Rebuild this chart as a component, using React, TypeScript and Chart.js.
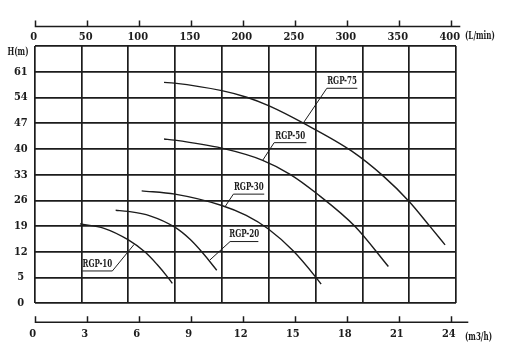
import { useEffect, useRef } from "react";
import { Chart, registerables } from "chart.js";

Chart.register(...registerables);

// ---- axis ticks ----
const m3hTicks = [0, 3, 6, 9, 12, 15, 18, 21, 24];
const lminTicks = [0, 50, 100, 150, 200, 250, 300, 350, 400];
const headTickValues = [-2, 5, 12, 19, 26, 33, 40, 47, 54, 61, 68];
const headTickLabels = ["0", "5", "12", "19", "26", "33", "40", "47", "54", "61", ""];
const gridColumns = [0, 1, 2, 3, 4, 5, 6, 7, 8, 9];
const m3hAxisMax = 24.3;
const lminAxisMax = 405;

// ---- pump curves: flow (m3/h) and head H (m) ----
const rgp10Flow = [2.61, 4.0, 5.38, 6.4, 7.05, 7.69, 7.94];
const rgp10Head = [19.6, 18.4, 15.3, 11.8, 8.6, 5.0, 3.4];
const rgp20Flow = [4.67, 5.38, 6.65, 8.08, 8.96, 9.67, 10.5];
const rgp20Head = [23.3, 23.0, 21.8, 18.7, 15.4, 11.8, 7.0];
const rgp30Flow = [6.17, 8.09, 10.79, 12.2, 13.48, 14.92, 16.23, 16.52];
const rgp30Head = [28.6, 27.7, 24.6, 21.9, 18.2, 12.2, 5.0, 3.2];
const rgp50Flow = [7.46, 8.05, 10.79, 13.15, 14.73, 16.23, 18.48, 20.4];
const rgp50Head = [42.7, 42.4, 40.2, 36.9, 33.1, 28.0, 18.9, 8.0];
const rgp75Flow = [7.46, 8.05, 10.79, 12.23, 13.52, 15.5, 18.29, 20.11, 21.61, 22.81, 23.67];
const rgp75Head = [58.1, 57.9, 55.85, 54.05, 51.7, 47.0, 39.4, 32.6, 25.65, 18.85, 13.9];

// ---- curve labels with leader lines: [point on curve, elbow, underline end] ----
const curveNames = ["RGP-10", "RGP-20", "RGP-30", "RGP-50", "RGP-75"];
const leaderFlow = [
  [5.73, 4.48, 2.75],
  [10.11, 11.27, 12.9],
  [10.98, 11.46, 13.24],
  [13.15, 13.81, 15.67],
  [15.5, 16.85, 18.61],
];
const leaderHead = [
  [14.0, 6.8, 6.8],
  [9.8, 14.8, 14.8],
  [24.3, 27.7, 27.7],
  [36.9, 41.7, 41.7],
  [47.1, 56.5, 56.5],
];

const INK = "#1c1c1c";
const FONT_FAMILY = "'DejaVu Serif Condensed', 'Liberation Serif', serif";
const tickFont = { family: FONT_FAMILY, size: 11, weight: "bold" as const };

function pts(xs: number[], ys: number[]) {
  return xs.map((x, i) => ({ x, y: ys[i] }));
}

const decorPlugin = {
  id: "decor",
  afterDraw(chart: any) {
    const ctx = chart.ctx as CanvasRenderingContext2D;
    const xb = chart.scales.x;
    const xt = chart.scales.xt;
    const y = chart.scales.y;
    const area = chart.chartArea;
    ctx.save();
    ctx.strokeStyle = INK;
    ctx.fillStyle = INK;
    ctx.lineWidth = 1.5;

    // top axis (L/min)
    const topLineY = area.top - 19.5;
    ctx.beginPath();
    ctx.moveTo(xt.getPixelForValue(0), topLineY);
    ctx.lineTo(xt.getPixelForValue(lminTicks[lminTicks.length - 1]) + 9.5, topLineY);
    for (const v of lminTicks) {
      const px = Math.round(xt.getPixelForValue(v)) + 0.5;
      ctx.moveTo(px, topLineY);
      ctx.lineTo(px, topLineY - 6);
    }
    ctx.stroke();

    // bottom axis (m3/h)
    const botLineY = area.bottom + 19;
    ctx.beginPath();
    ctx.moveTo(xb.getPixelForValue(0), botLineY);
    ctx.lineTo(xb.getPixelForValue(m3hTicks[m3hTicks.length - 1]) + 17.5, botLineY);
    for (const v of m3hTicks) {
      const px = Math.round(xb.getPixelForValue(v)) + 0.5;
      ctx.moveTo(px, botLineY);
      ctx.lineTo(px, botLineY - 6);
    }
    ctx.stroke();

    const drawNarrow = (text: string, cx: number, cy: number, align: CanvasTextAlign, base: CanvasTextBaseline) => {
      ctx.save();
      ctx.translate(cx, cy);
      ctx.scale(0.72, 1);
      ctx.textAlign = align;
      ctx.textBaseline = base;
      ctx.fillText(text, 0, 0);
      ctx.restore();
    };

    ctx.font = `bold 11px ${FONT_FAMILY}`;
    drawNarrow("(L/min)", area.right + 9, area.top - 9.5, "left", "middle");
    drawNarrow("(m3/h)", area.right + 9, area.bottom + 34, "left", "middle");
    drawNarrow("H(m)", 18, area.top + 6, "center", "middle");

    // curve labels
    curveNames.forEach((name, i) => {
      const fx = leaderFlow[i];
      const hy = leaderHead[i];
      const mid = (fx[1] + fx[2]) / 2;
      const px = xb.getPixelForValue(mid);
      const py = y.getPixelForValue(hy[1]) - 1.5;
      drawNarrow(name, px, py, "center", "bottom");
    });
    ctx.restore();
  },
};

export default function App() {
  const ref = useRef<HTMLCanvasElement | null>(null);

  useEffect(() => {
    if (!ref.current) return;
    const curves = [
      pts(rgp10Flow, rgp10Head),
      pts(rgp20Flow, rgp20Head),
      pts(rgp30Flow, rgp30Head),
      pts(rgp50Flow, rgp50Head),
      pts(rgp75Flow, rgp75Head),
    ];
    const curveSets = curves.map((data, i) => ({
      label: curveNames[i],
      data,
      xAxisID: "x",
      yAxisID: "y",
      borderColor: INK,
      borderWidth: 1.4,
      pointRadius: 0,
      fill: false,
      cubicInterpolationMode: "monotone" as const,
    }));
    const leaderSets = curveNames.map((name, i) => ({
      label: name + " leader",
      data: pts(leaderFlow[i], leaderHead[i]),
      xAxisID: "x",
      yAxisID: "y",
      borderColor: INK,
      borderWidth: 1,
      pointRadius: 0,
      fill: false,
      tension: 0,
    }));

    const chart = new Chart(ref.current, {
      type: "line",
      data: { datasets: [...curveSets, ...leaderSets] as any },
      options: {
        animation: false,
        responsive: true,
        maintainAspectRatio: false,
        layout: { padding: { left: 0, right: 50, top: 0, bottom: 0 } },
        plugins: { legend: { display: false }, tooltip: { enabled: false } },
        scales: {
          xg: {
            type: "linear",
            position: "bottom",
            min: gridColumns[0],
            max: gridColumns[gridColumns.length - 1],
            afterBuildTicks: (s: any) => {
              s.ticks = gridColumns.map((v) => ({ value: v }));
            },
            ticks: { display: false },
            grid: { color: INK, lineWidth: 1.7, drawTicks: false },
            border: { display: false },
            afterFit: (s: any) => {
              s.height = 0;
            },
          },
          x: {
            type: "linear",
            position: "bottom",
            min: 0,
            max: m3hAxisMax,
            afterBuildTicks: (s: any) => {
              s.ticks = m3hTicks.map((v) => ({ value: v }));
            },
            ticks: {
              color: INK,
              font: tickFont,
              padding: 24,
              autoSkip: false,
              maxRotation: 0,
              labelOffset: -2,
              callback: (v: any) => String(v),
            },
            grid: { display: false, drawTicks: false },
            border: { display: false },
            afterFit: (s: any) => {
              s.height = 51.7;
            },
          },
          xt: {
            type: "linear",
            position: "top",
            min: 0,
            max: lminAxisMax,
            afterBuildTicks: (s: any) => {
              s.ticks = lminTicks.map((v) => ({ value: v }));
            },
            ticks: {
              color: INK,
              font: tickFont,
              padding: 2.4,
              autoSkip: false,
              maxRotation: 0,
              labelOffset: -1,
              callback: (v: any) => String(v),
            },
            grid: { display: false, drawTicks: false },
            border: { display: false },
            afterFit: (s: any) => {
              s.height = 46;
            },
          },
          y: {
            type: "linear",
            position: "left",
            min: headTickValues[0],
            max: headTickValues[headTickValues.length - 1],
            afterBuildTicks: (s: any) => {
              s.ticks = headTickValues.map((v) => ({ value: v }));
            },
            ticks: {
              color: INK,
              font: tickFont,
              padding: 7,
              crossAlign: "center",
              autoSkip: false,
              callback: (v: any) => {
                const idx = headTickValues.indexOf(Number(v));
                return idx >= 0 ? headTickLabels[idx] : "";
              },
            },
            grid: { color: INK, lineWidth: 1.7, drawTicks: false },
            border: { display: false },
            afterFit: (s: any) => {
              s.width = 34.7;
            },
          },
        },
      },
      plugins: [decorPlugin],
    });
    return () => chart.destroy();
  }, []);

  return (
    <div style={{ position: "fixed", left: 0, top: 0, width: 506, height: 355, background: "#fff" }}>
      <canvas ref={ref} />
    </div>
  );
}
